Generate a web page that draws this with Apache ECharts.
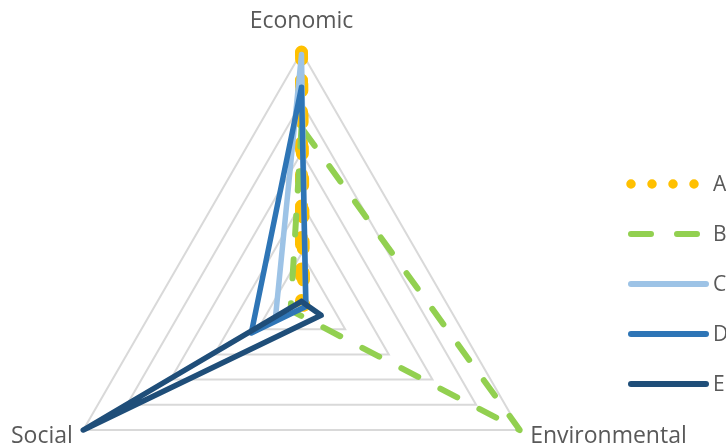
<!DOCTYPE html>
<html>
<head>
<meta charset="utf-8">
<script src="https://cdn.jsdelivr.net/npm/echarts@6/dist/echarts.min.js"></script>
<style>
  html, body { margin: 0; padding: 0; background: #ffffff; }
  #chart { width: 726px; height: 446px; }
</style>
</head>
<body>
<div id="chart"></div>
<script>
// Three pillars, listed in the order the radar lays them out
var indicators = ['Economic', 'Social', 'Environmental'];
var maxValue = 1;

// Series names and their scores, one value per pillar (same order as above)
var seriesNames = ['A', 'B', 'C', 'D', 'E'];
var valuesA = [1.00, 0.00, 0.01];
var valuesB = [0.70, 0.05, 1.00];
var valuesC = [0.99, 0.12, 0.02];
var valuesD = [0.86, 0.23, 0.02];
var valuesE = [0.01, 1.00, 0.09];

var allValues = [valuesA, valuesB, valuesC, valuesD, valuesE];

var colors = ['#FFC000', '#92D050', '#9DC3E6', '#2E75B6', '#1F4E79'];
var chartDash = [[7, 24.5], [19, 25], 'solid', 'solid', 'solid'];
var chartDashOffset = [3.5, 0, 0, 0, 0];
var chartWidth = [13, 6, 5.5, 5.5, 5.5];
var legendDash = [[0, 21], [20, 26], null, null, null];
var legendWidth = [9.5, 6, 6, 6, 6];

var textColor = '#595959';
var fontFamily = '"Open Sans", "Noto Sans", sans-serif';

var chart = echarts.init(document.getElementById('chart'), null, { renderer: 'canvas' });

var series = seriesNames.map(function (name, i) {
  return {
    type: 'radar',
    name: name,
    symbol: 'none',
    z: 2 + i,
    lineStyle: {
      color: colors[i],
      width: chartWidth[i],
      type: chartDash[i],
      dashOffset: chartDashOffset[i],
      cap: 'round',
      join: 'round'
    },
    itemStyle: { color: colors[i] },
    silent: true,
    data: [{ name: name, value: allValues[i] }]
  };
});

// Legend drawn as sample strokes plus labels on the right
var legendGraphics = [];
seriesNames.forEach(function (name, i) {
  var y = 184 + i * 50;
  var x1 = 631;
  var x2 = i === 0 ? 695 : (i === 1 ? 697 : 706);
  var style = {
    stroke: colors[i],
    lineWidth: legendWidth[i],
    lineCap: 'round'
  };
  if (legendDash[i]) style.lineDash = legendDash[i];
  legendGraphics.push({
    type: 'line',
    shape: { x1: x1, y1: y, x2: x2, y2: y },
    style: style,
    silent: true
  });
  legendGraphics.push({
    type: 'text',
    x: 713,
    y: y + 1,
    style: {
      text: name,
      fill: textColor,
      font: '21px ' + fontFamily,
      verticalAlign: 'middle'
    },
    silent: true
  });
});

chart.setOption({
  animation: false,
  backgroundColor: '#ffffff',
  radar: {
    center: [301.5, 304],
    radius: 252,
    startAngle: 90,
    shape: 'polygon',
    splitNumber: 5,
    nameGap: 12,
    indicator: indicators.map(function (n) { return { name: n, max: maxValue, min: 0 }; }),
    axisName: {
      color: textColor,
      fontSize: 23,
      fontFamily: fontFamily,
      // the top label sits a little further from its vertex
      formatter: function (name) {
        return name === indicators[0] ? '{top|' + name + '}' : name;
      },
      rich: {
        top: {
          color: textColor,
          fontSize: 23,
          fontFamily: fontFamily,
          padding: [0, 0, 7, 0]
        }
      }
    },
    axisLine: { show: false },
    axisTick: { show: false },
    axisLabel: { show: false },
    splitArea: { show: false },
    splitLine: { lineStyle: { color: '#D9D9D9', width: 2 } }
  },
  series: series,
  graphic: legendGraphics
});
</script>
</body>
</html>
